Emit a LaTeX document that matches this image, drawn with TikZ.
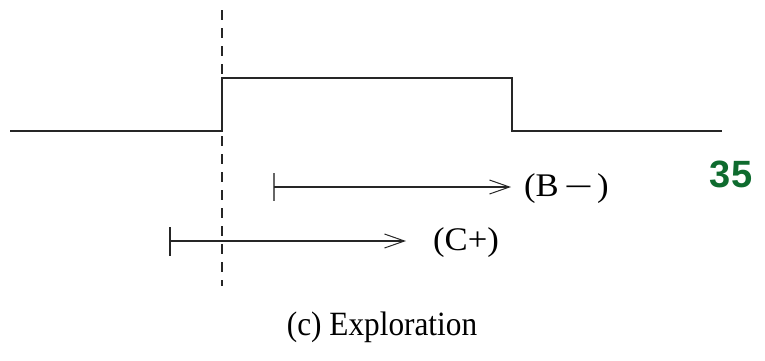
\documentclass[tikz,border=0pt]{standalone}
\usepackage{fontspec}
\usepackage{graphicx}
\setmainfont{Liberation Serif}
\newfontfamily\numfont{Liberation Sans}
\newfontfamily\lblfont[FakeStretch=1.05]{Liberation Serif}
\newfontfamily\capfont[FakeStretch=0.92]{Liberation Serif}
\usetikzlibrary{arrows.meta}
\definecolor{numgreen}{HTML}{0E6B2E}
\begin{document}
\begin{tikzpicture}[x=1pt,y=-1pt,
  sig/.style={line width=1.5pt,black!85},
  guide/.style={line width=1.2pt,dash pattern=on 10pt off 8pt,black!85},
  interval/.style={line width=1.2pt,black!85,-{Straight Barb[length=20pt,width=14pt,line width=1pt]}},
  tick/.style={line width=1.2pt,black!60},
  lbl/.style={font=\lblfont\fontsize{33}{35}\selectfont,inner sep=0pt}]
\useasboundingbox (0,0) rectangle (765,360);
% signal
\coordinate (s0) at (10,131);
\coordinate (s1) at (222,131);
\coordinate (s2) at (222,78);
\coordinate (s3) at (512,78);
\coordinate (s4) at (512,131);
\coordinate (s5) at (722,131);
\draw[sig] (s0) -- (s1) -- (s2) -- (s3) -- (s4) -- (s5);
% dashed guide
\coordinate (g0) at (222,10);
\coordinate (g1) at (222,286);
\draw[guide] (g0) -- (g1);
% interval B
\coordinate (b0) at (274,187);
\coordinate (b1) at (511,187);
\coordinate (bt0) at (274,173);
\coordinate (bt1) at (274,201);
\draw[tick] (bt0) -- (bt1);
\draw[interval] (b0) -- (b1);
\node[lbl,anchor=west] (bl) at (524,189) {(B\hspace{8pt}\raisebox{2pt}{\scalebox{1.35}[1]{–}}\hspace{7pt})};
% interval C
\coordinate (c0) at (170,241);
\coordinate (c1) at (406,241);
\coordinate (ct0) at (170,227);
\coordinate (ct1) at (170,256);
\draw[tick,black!85] (ct0) -- (ct1);
\draw[interval] (c0) -- (c1);
\node[lbl,anchor=west] (cl) at (433,243) {(C+)};
% page number
\node[font=\numfont\bfseries\fontsize{38}{40}\selectfont,text=numgreen,inner sep=0pt] (num) at (731,174) {35};
% caption
\node[font=\capfont\fontsize{34}{36}\selectfont,inner sep=0pt] (cap) at (382,327) {(c) Exploration};
\end{tikzpicture}
\end{document}
